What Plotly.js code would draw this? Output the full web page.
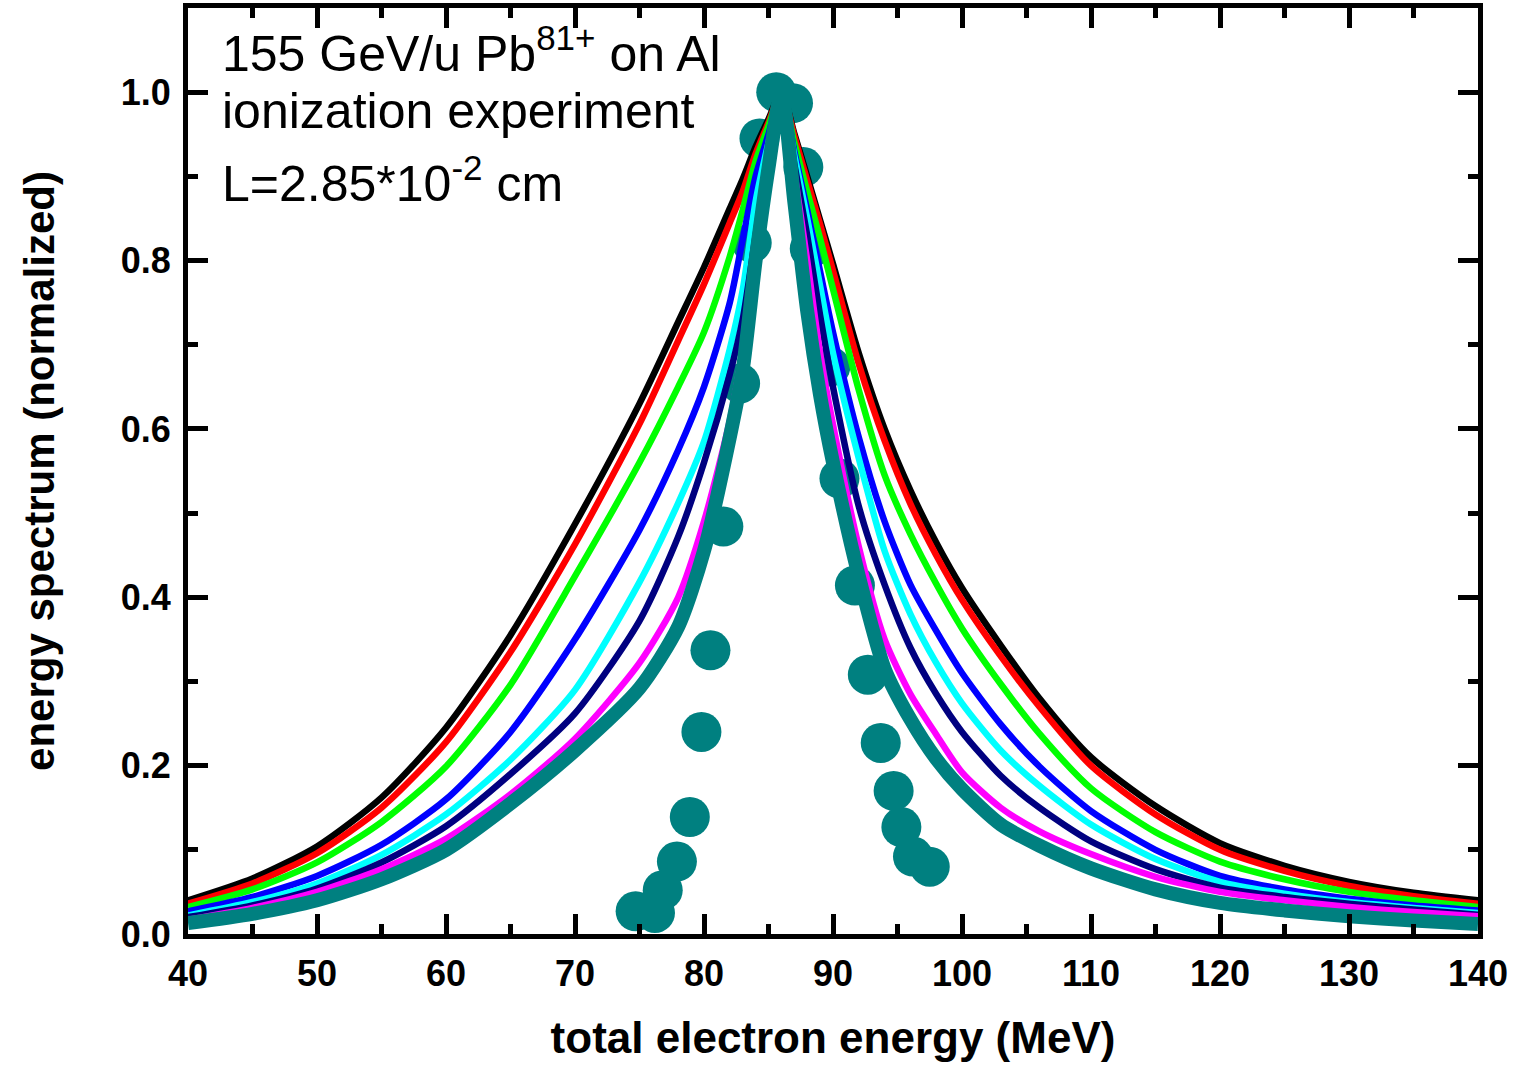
<!DOCTYPE html>
<html>
<head>
<meta charset="utf-8">
<script src="https://cdn.plot.ly/plotly-3.0.1.min.js"></script>
<style>html,body{margin:0;padding:0;background:#fff;}#chart{width:1515px;height:1070px;}</style>
</head>
<body>
<div id="chart"></div>
<script>
// ---- data ----
// common energy grid (MeV) on which the curves were read
const energy = [40, 45, 50, 55, 60, 65, 70, 75, 78, 80, 82, 83, 84, 85, 86,
                87, 88, 89, 90, 92, 94, 96, 98, 100, 103, 106, 110, 115, 120, 125, 130, 135, 140];

const blackY = [0.040, 0.066, 0.104, 0.162, 0.245, 0.355, 0.487, 0.630, 0.727, 0.792, 0.862, 0.897, 0.935, 0.968, 1.0,
                0.951, 0.900, 0.848, 0.796, 0.690, 0.600, 0.527, 0.465, 0.411, 0.343, 0.280, 0.210, 0.152, 0.108, 0.081, 0.062, 0.049, 0.040];
const redY   = [0.036, 0.060, 0.096, 0.150, 0.228, 0.335, 0.463, 0.606, 0.705, 0.772, 0.845, 0.882, 0.927, 0.964, 1.0,
                0.948, 0.895, 0.843, 0.788, 0.677, 0.586, 0.511, 0.450, 0.397, 0.330, 0.270, 0.200, 0.142, 0.100, 0.075, 0.057, 0.045, 0.036];
const greenY = [0.032, 0.053, 0.085, 0.133, 0.199, 0.296, 0.425, 0.560, 0.650, 0.715, 0.805, 0.860, 0.918, 0.960, 1.0,
                0.940, 0.882, 0.826, 0.766, 0.646, 0.545, 0.475, 0.416, 0.363, 0.297, 0.238, 0.173, 0.121, 0.086, 0.065, 0.050, 0.040, 0.032];
const blueY  = [0.027, 0.044, 0.069, 0.106, 0.160, 0.240, 0.350, 0.480, 0.575, 0.650, 0.750, 0.825, 0.900, 0.950, 1.0,
                0.930, 0.860, 0.787, 0.715, 0.590, 0.490, 0.415, 0.360, 0.310, 0.249, 0.199, 0.146, 0.100, 0.069, 0.053, 0.042, 0.034, 0.028];
const cyanY  = [0.022, 0.038, 0.060, 0.094, 0.142, 0.207, 0.290, 0.418, 0.512, 0.585, 0.695, 0.765, 0.870, 0.940, 1.0,
                0.925, 0.850, 0.770, 0.690, 0.565, 0.455, 0.380, 0.322, 0.274, 0.218, 0.176, 0.130, 0.089, 0.062, 0.048, 0.038, 0.031, 0.025];
const navyY  = [0.020, 0.034, 0.054, 0.085, 0.128, 0.190, 0.262, 0.372, 0.472, 0.560, 0.665, 0.730, 0.830, 0.930, 1.0,
                0.915, 0.830, 0.735, 0.650, 0.508, 0.415, 0.340, 0.285, 0.240, 0.188, 0.150, 0.110, 0.077, 0.055, 0.044, 0.036, 0.029, 0.023];
const magentaY = [0.017, 0.031, 0.050, 0.077, 0.113, 0.166, 0.232, 0.322, 0.400, 0.490, 0.610, 0.695, 0.810, 0.920, 1.0,
                0.905, 0.800, 0.690, 0.605, 0.460, 0.350, 0.285, 0.237, 0.192, 0.150, 0.122, 0.095, 0.068, 0.050, 0.040, 0.032, 0.026, 0.021];
const tealY  = [0.013, 0.024, 0.040, 0.065, 0.100, 0.155, 0.218, 0.292, 0.365, 0.455, 0.590, 0.670, 0.800, 0.910, 1.0,
                0.870, 0.740, 0.640, 0.560, 0.425, 0.315, 0.255, 0.208, 0.172, 0.130, 0.105, 0.078, 0.053, 0.037, 0.028, 0.021, 0.016, 0.012];

// experimental points
const expX = [74.7, 76.2, 76.8, 77.9, 78.9, 79.8, 80.5, 81.5, 82.8, 83.7, 84.3, 85.6, 86.9, 87.7, 88.2, 89.8, 90.5, 91.7, 92.7, 93.7, 94.7, 95.3, 96.2, 97.5];
const expY = [0.027, 0.025, 0.052, 0.086, 0.139, 0.240, 0.337, 0.484, 0.654, 0.821, 0.945, 1.0, 0.987, 0.911, 0.814, 0.674, 0.541, 0.414, 0.308, 0.227, 0.170, 0.127, 0.092, 0.080];

const xTickVals = [40, 50, 60, 70, 80, 90, 100, 110, 120, 130, 140];
const yTickVals = [0.0, 0.2, 0.4, 0.6, 0.8, 1.0];

const noteLines = [
  "155 GeV/u Pb<sup>81+</sup> on Al",
  "ionization experiment",
  "L=2.85*10<sup>-2</sup> cm"
];
const xTitle = "total electron energy (MeV)";
const yTitle = "energy spectrum (normalized)";

// ---- plotting ----
const FONT = "Liberation Sans, Arial, Helvetica, sans-serif";
function line(y, color, width, name) {
  return {x: energy, y: y, type: "scatter", mode: "lines", name: name,
          line: {color: color, width: width, shape: "spline", smoothing: 0.7},
          hoverinfo: "skip"};
}

const traces = [
  {x: expX, y: expY, type: "scatter", mode: "markers", name: "experiment",
   marker: {color: "#008080", size: 40, line: {width: 0}}},
  line(blackY, "#000000", 6.5, "black"),
  line(redY, "#ff0000", 6.5, "red"),
  line(greenY, "#00ff00", 6.5, "green"),
  line(blueY, "#0000ff", 6.5, "blue"),
  line(cyanY, "#00ffff", 6.5, "cyan"),
  line(navyY, "#000080", 6.5, "navy"),
  line(magentaY, "#ff00ff", 6.5, "magenta"),
  line(tealY, "#008080", 14, "teal")
];

const axisCommon = {
  showgrid: false, zeroline: false,
  showline: true, linecolor: "#000", linewidth: 5, mirror: "ticks",
  ticks: "inside", ticklen: 20, tickwidth: 5, tickcolor: "#000",
  tickfont: {family: FONT, size: 36, color: "#000", weight: "bold"}
};

const noteY = [0.9546, 0.8888, 0.8143];
const annotations = noteLines.map((t, i) => ({
  text: t, xref: "paper", yref: "paper", x: 0.0248, y: noteY[i],
  xanchor: "left", yanchor: "middle", showarrow: false,
  font: {family: FONT, size: 50, color: "#000"}
}));

const layout = {
  width: 1515, height: 1070,
  margin: {l: 188, r: 37, t: 8, b: 136},
  paper_bgcolor: "#fff", plot_bgcolor: "#fff",
  showlegend: false,
  xaxis: Object.assign({}, axisCommon, {
    range: [40, 140], tickvals: xTickVals, ticktext: xTickVals.map(String),
    minor: {dtick: 5, ticks: "inside", ticklen: 10, tickwidth: 5, tickcolor: "#000"},
    ticklabelstandoff: 4,
    title: {text: xTitle, font: {family: FONT, size: 44, color: "#000", weight: "bold"}, standoff: 30}
  }),
  yaxis: Object.assign({}, axisCommon, {
    range: [0, 1.1], tickvals: yTickVals, ticktext: yTickVals.map(v => v.toFixed(1)),
    minor: {dtick: 0.1, ticks: "inside", ticklen: 10, tickwidth: 5, tickcolor: "#000"},
    ticklabelstandoff: 5,
    title: {text: yTitle, font: {family: FONT, size: 42, color: "#000", weight: "bold"}, standoff: 55}
  }),
  annotations: annotations
};

Plotly.newPlot("chart", traces, layout, {displayModeBar: false, staticPlot: true});
</script>
</body>
</html>
